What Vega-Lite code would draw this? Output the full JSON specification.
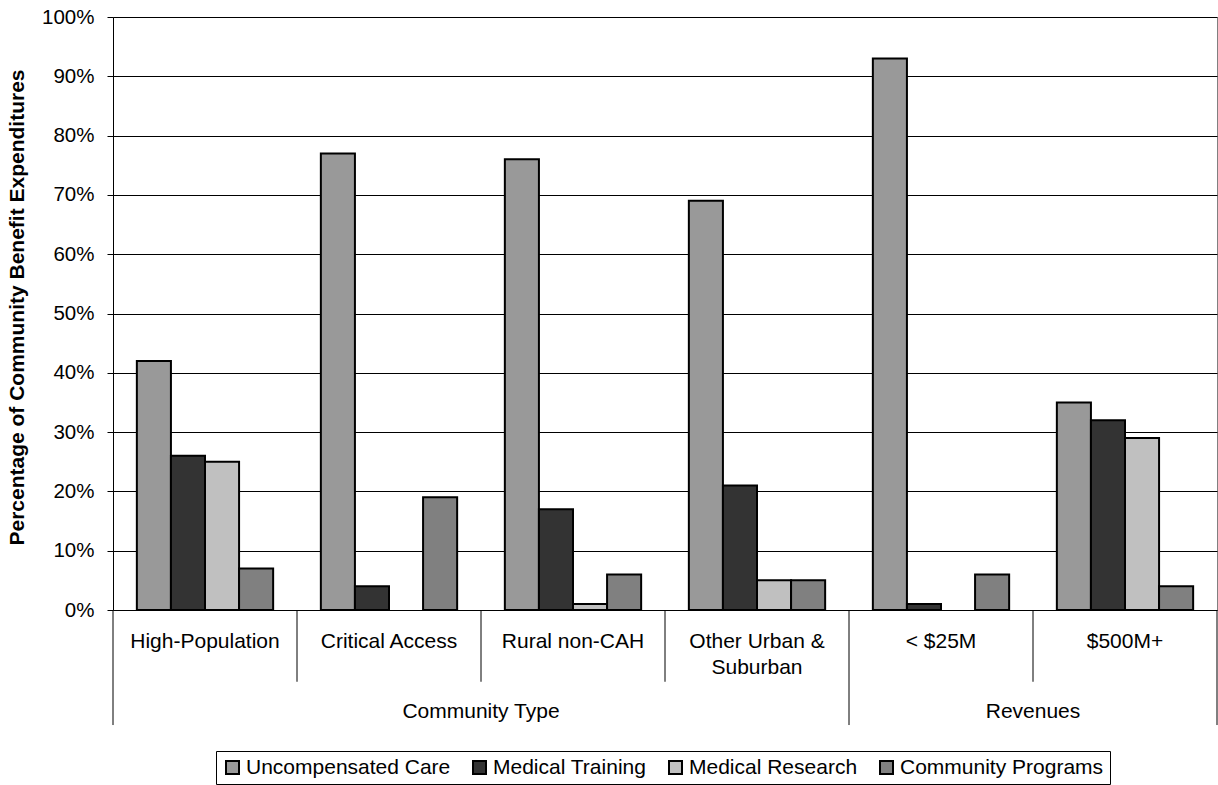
{
  "$schema": "https://vega.github.io/schema/vega-lite/v6.json",
  "width": 1104,
  "height": 593,
  "autosize": {"type": "none"},
  "padding": {"left": 113, "top": 17, "right": 1, "bottom": 175},
  "background": "white",
  "config": {
    "font": "Liberation Sans",
    "view": {"stroke": "#808080", "strokeWidth": 1}
  },
  "layer": [
    {
      "data": {
        "values": [
          {"category": "High-Population", "series": "Uncompensated Care", "value": 42},
          {"category": "High-Population", "series": "Medical Training", "value": 26},
          {"category": "High-Population", "series": "Medical Research", "value": 25},
          {"category": "High-Population", "series": "Community Programs", "value": 7},
          {"category": "Critical Access", "series": "Uncompensated Care", "value": 77},
          {"category": "Critical Access", "series": "Medical Training", "value": 4},
          {"category": "Critical Access", "series": "Community Programs", "value": 19},
          {"category": "Rural non-CAH", "series": "Uncompensated Care", "value": 76},
          {"category": "Rural non-CAH", "series": "Medical Training", "value": 17},
          {"category": "Rural non-CAH", "series": "Medical Research", "value": 1},
          {"category": "Rural non-CAH", "series": "Community Programs", "value": 6},
          {"category": "Other Urban & Suburban", "series": "Uncompensated Care", "value": 69},
          {"category": "Other Urban & Suburban", "series": "Medical Training", "value": 21},
          {"category": "Other Urban & Suburban", "series": "Medical Research", "value": 5},
          {"category": "Other Urban & Suburban", "series": "Community Programs", "value": 5},
          {"category": "< $25M", "series": "Uncompensated Care", "value": 93},
          {"category": "< $25M", "series": "Medical Training", "value": 1},
          {"category": "< $25M", "series": "Community Programs", "value": 6},
          {"category": "$500M+", "series": "Uncompensated Care", "value": 35},
          {"category": "$500M+", "series": "Medical Training", "value": 32},
          {"category": "$500M+", "series": "Medical Research", "value": 29},
          {"category": "$500M+", "series": "Community Programs", "value": 4}
        ]
      },
      "mark": {"type": "bar", "stroke": "black", "strokeWidth": 2},
      "encoding": {
        "x": {
          "field": "category",
          "type": "nominal",
          "scale": {
            "domain": ["High-Population", "Critical Access", "Rural non-CAH", "Other Urban & Suburban", "< $25M", "$500M+"],
            "paddingInner": 0,
            "paddingOuter": 0
          },
          "axis": {
            "title": null,
            "labels": false,
            "ticks": false,
            "domainColor": "black",
            "domainWidth": 1,
            "grid": false
          }
        },
        "xOffset": {
          "field": "series",
          "type": "nominal",
          "scale": {
            "domain": ["Uncompensated Care", "Medical Training", "Medical Research", "Community Programs"],
            "paddingInner": 0,
            "paddingOuter": 0.7
          }
        },
        "y": {
          "field": "value",
          "type": "quantitative",
          "scale": {"domain": [0, 100], "nice": false, "zero": true},
          "axis": {
            "title": "Percentage of Community Benefit Expenditures",
            "titleFontSize": 21,
            "titleFontWeight": "bold",
            "titleColor": "black",
            "titlePadding": 14,
            "titleY": 290,
            "values": [0, 10, 20, 30, 40, 50, 60, 70, 80, 90, 100],
            "labelExpr": "datum.value + '%'",
            "labelFontSize": 20.5,
            "labelColor": "black",
            "labelPadding": 13,
            "tickSize": 6,
            "tickColor": "black",
            "domainColor": "black",
            "domainWidth": 1,
            "grid": true,
            "gridColor": "black",
            "gridWidth": 1
          }
        },
        "color": {
          "field": "series",
          "type": "nominal",
          "scale": {
            "domain": ["Uncompensated Care", "Medical Training", "Medical Research", "Community Programs"],
            "range": ["#999999", "#333333", "#C0C0C0", "#808080"]
          },
          "legend": {
            "title": null,
            "orient": "none",
            "legendX": 103,
            "legendY": 734,
            "direction": "horizontal",
            "columns": 4,
            "columnPadding": 18,
            "padding": 6,
            "strokeColor": "black",
            "fillColor": "white",
            "symbolType": "square",
            "symbolSize": 169,
            "symbolStrokeColor": "black",
            "symbolStrokeWidth": 2,
            "symbolOpacity": 1,
            "labelFontSize": 21,
            "labelColor": "black",
            "labelOffset": 3,
            "labelLimit": 400
          }
        }
      }
    },
    {
      "data": {
        "values": [
          {"category": "High-Population", "label": ["High-Population"]},
          {"category": "Critical Access", "label": ["Critical Access"]},
          {"category": "Rural non-CAH", "label": ["Rural non-CAH"]},
          {"category": "Other Urban & Suburban", "label": ["Other Urban &", "Suburban"]},
          {"category": "< $25M", "label": ["< $25M"]},
          {"category": "$500M+", "label": ["$500M+"]}
        ]
      },
      "mark": {"type": "text", "fontSize": 21, "color": "black", "baseline": "top", "align": "center", "lineHeight": 26},
      "encoding": {
        "x": {"field": "category", "type": "nominal", "bandPosition": 0.5, "axis": null},
        "y": {"datum": -3.5},
        "text": {"field": "label"}
      }
    },
    {
      "data": {"values": [{"category": "Critical Access"}, {"category": "Rural non-CAH"}, {"category": "Other Urban & Suburban"}, {"category": "$500M+"}]},
      "mark": {"type": "rule", "color": "black", "strokeWidth": 1},
      "encoding": {
        "x": {"field": "category", "type": "nominal", "bandPosition": 0, "axis": null},
        "y": {"datum": 0},
        "y2": {"datum": -12.1}
      }
    },
    {
      "data": {"values": [{"category": "High-Population"}, {"category": "< $25M"}]},
      "mark": {"type": "rule", "color": "black", "strokeWidth": 1},
      "encoding": {
        "x": {"field": "category", "type": "nominal", "bandPosition": 0, "axis": null},
        "y": {"datum": 0},
        "y2": {"datum": -19.4}
      }
    },
    {
      "data": {"values": [{"category": "$500M+"}]},
      "mark": {"type": "rule", "color": "black", "strokeWidth": 1},
      "encoding": {
        "x": {"field": "category", "type": "nominal", "bandPosition": 1, "axis": null},
        "y": {"datum": 0},
        "y2": {"datum": -19.4}
      }
    },
    {
      "data": {"values": [{"category": "Rural non-CAH", "group": "Community Type"}, {"category": "$500M+", "group": "Revenues"}]},
      "mark": {"type": "text", "fontSize": 21, "color": "black", "baseline": "middle", "align": "center"},
      "encoding": {
        "x": {"field": "category", "type": "nominal", "bandPosition": 0, "axis": null},
        "y": {"datum": -17.2},
        "text": {"field": "group"}
      }
    }
  ]
}
